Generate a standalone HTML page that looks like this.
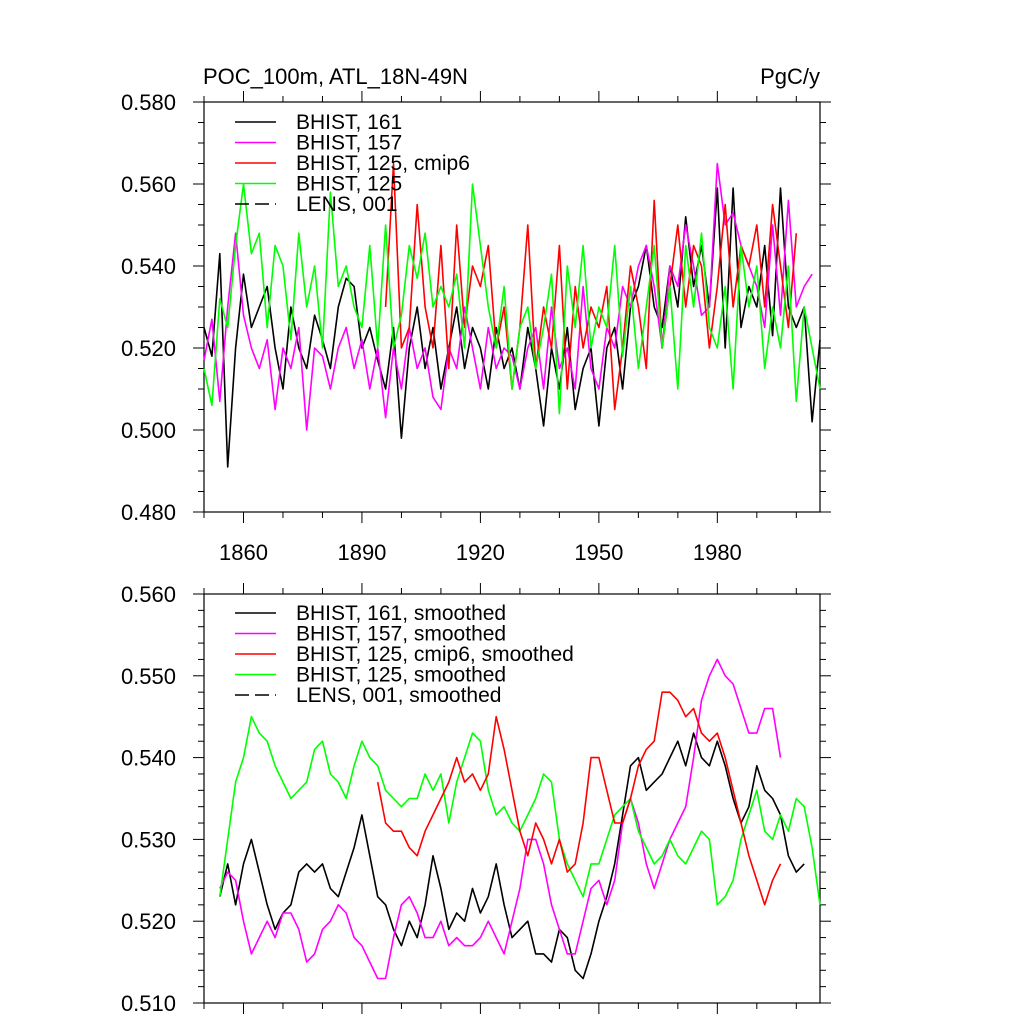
<!DOCTYPE html>
<html><head><meta charset="utf-8"><style>
body{margin:0;background:#fff}
svg{display:block}
text{font-family:"Liberation Sans",sans-serif;fill:#000}
</style></head><body>
<svg id="c" width="1024" height="1024" xmlns="http://www.w3.org/2000/svg">
<text x="203" y="84" font-size="22">POC_100m, ATL_18N-49N</text>
<text x="820" y="84" font-size="22" text-anchor="end">PgC/y</text>
</svg>
<script>
// top panel data (biennial from 1850)
const topBlack=[.525,.518,.543,.491,.52,.538,.525,.53,.535,.52,.51,.53,.52,.515,.528,.522,.515,.53,.537,.535,.52,.525,.517,.51,.525,.498,.52,.53,.515,.525,.51,.52,.53,.515,.525,.52,.51,.525,.515,.52,.51,.525,.515,.501,.52,.51,.525,.505,.515,.52,.501,.52,.525,.51,.53,.535,.545,.53,.525,.54,.53,.552,.535,.545,.53,.559,.52,.559,.525,.535,.53,.545,.523,.559,.53,.525,.53,.502,.522];
const topMagenta=[.517,.527,.507,.53,.548,.528,.52,.515,.522,.505,.52,.515,.525,.50,.52,.518,.51,.52,.525,.515,.522,.51,.52,.503,.52,.51,.525,.515,.52,.508,.505,.52,.515,.53,.52,.51,.525,.515,.52,.518,.51,.52,.525,.51,.53,.515,.52,.51,.535,.515,.51,.525,.52,.535,.53,.54,.545,.535,.52,.54,.535,.55,.54,.528,.53,.565,.55,.553,.545,.54,.535,.525,.55,.528,.556,.53,.535,.538];
const topGreen=[.515,.506,.532,.525,.545,.56,.543,.548,.525,.545,.54,.522,.548,.53,.54,.52,.558,.535,.54,.53,.525,.545,.52,.55,.52,.528,.545,.537,.548,.53,.535,.53,.538,.52,.56,.545,.53,.52,.535,.51,.525,.53,.515,.525,.538,.504,.54,.525,.545,.52,.53,.525,.545,.518,.535,.515,.53,.545,.52,.535,.51,.545,.53,.548,.525,.52,.535,.51,.545,.53,.54,.515,.53,.52,.54,.507,.53,.52,.51];
const topRedStart=1896;
const topRed=[.53,.565,.52,.525,.555,.53,.52,.545,.515,.55,.525,.54,.535,.545,.52,.53,.51,.525,.55,.515,.53,.52,.545,.51,.535,.52,.53,.525,.535,.505,.52,.54,.53,.515,.556,.52,.535,.55,.53,.545,.54,.52,.535,.555,.53,.545,.54,.55,.53,.555,.54,.525,.548];
// bottom panel smoothed data (biennial from 1854)
const botBlack=[.523,.527,.522,.527,.530,.526,.522,.519,.521,.522,.526,.527,.526,.527,.524,.523,.526,.529,.533,.528,.523,.522,.519,.517,.520,.518,.522,.528,.524,.519,.521,.520,.524,.521,.523,.527,.522,.518,.519,.52,.516,.516,.515,.519,.518,.514,.513,.516,.52,.523,.527,.533,.539,.540,.536,.537,.538,.54,.542,.539,.543,.54,.539,.542,.539,.535,.532,.534,.539,.536,.535,.533,.528,.526,.527];
const botMagenta=[.524,.526,.525,.52,.516,.518,.52,.518,.521,.521,.519,.515,.516,.519,.52,.522,.521,.518,.517,.515,.513,.513,.518,.522,.523,.521,.518,.518,.52,.517,.518,.517,.517,.518,.52,.518,.516,.52,.524,.53,.53,.527,.522,.519,.516,.516,.52,.524,.525,.522,.525,.532,.535,.532,.527,.524,.527,.53,.532,.534,.54,.547,.55,.552,.55,.549,.546,.543,.543,.546,.546,.54];
const botRedStart=1894;
const botRed=[.537,.532,.531,.531,.529,.528,.531,.533,.535,.537,.540,.537,.538,.536,.538,.545,.541,.536,.531,.528,.532,.530,.527,.530,.526,.527,.532,.540,.540,.536,.532,.532,.535,.539,.541,.542,.548,.548,.547,.545,.546,.543,.542,.543,.540,.536,.532,.528,.525,.522,.525,.527];
const botGreen=[.523,.53,.537,.54,.545,.543,.542,.539,.537,.535,.536,.537,.541,.542,.538,.537,.535,.539,.542,.540,.539,.536,.535,.534,.535,.535,.538,.536,.538,.532,.537,.540,.543,.542,.536,.533,.534,.532,.531,.533,.535,.538,.537,.530,.527,.525,.523,.527,.527,.53,.533,.534,.535,.531,.529,.527,.528,.530,.528,.527,.529,.531,.530,.522,.523,.525,.53,.533,.536,.531,.530,.533,.531,.535,.534,.529,.522];
const xTickLabels=["1860","1890","1920","1950","1980"];
const topLegend=["BHIST, 161","BHIST, 157","BHIST, 125, cmip6","BHIST, 125","LENS, 001"];
const botLegend=["BHIST, 161, smoothed","BHIST, 157, smoothed","BHIST, 125, cmip6, smoothed","BHIST, 125, smoothed","LENS, 001, smoothed"];

const NS="http://www.w3.org/2000/svg";
const svg=document.getElementById('c');
function mk(tag,attrs,parent){const e=document.createElementNS(NS,tag);for(const k in attrs)e.setAttribute(k,attrs[k]);(parent||svg).appendChild(e);return e;}
const X0=204,X1=820,Y0=1850,Y1=2006;
function xs(yr){return X0+(yr-Y0)/(Y1-Y0)*(X1-X0);}
function panel(top,bot,vmin,vmax,major,minor,labelsX,name){
  const g=mk('g',{});
  
  
  const ys=v=>bot-(v-vmin)/(vmax-vmin)*(bot-top);
  const r=mk('rect',{x:X0,y:top,width:X1-X0,height:bot-top,fill:'none',stroke:'#000','stroke-width':1.2},g);
  
  
  const nmin=Math.round((vmax-vmin)/minor);
  for(let i=0;i<=nmin;i++){
    const v=vmin+i*minor;const y=ys(v);
    const isMaj=Math.abs(Math.round((v-vmin)/major)*major-(v-vmin))<1e-9;
    const L=isMaj?11:6;
    mk('line',{x1:X0-L,x2:X0,y1:y,y2:y,stroke:'#000'},g);
    mk('line',{x1:X1,x2:X1+L,y1:y,y2:y,stroke:'#000'},g);
    if(isMaj){const t=mk('text',{x:X0-28,y:y+8,'font-size':22,'text-anchor':'end'},g);t.textContent=v.toFixed(3);
      
      }
  }
  for(let yr=1850;yr<=2000;yr+=10){
    const x=xs(yr);const isMaj=(yr-1860)%30===0;const L=isMaj?11:6;
    mk('line',{x1:x,x2:x,y1:bot,y2:bot+L,stroke:'#000'},g);
    mk('line',{x1:x,x2:x,y1:top-L,y2:top,stroke:'#000'},g);
  }
  if(labelsX){xTickLabels.forEach(s=>{const t=mk('text',{x:xs(+s),y:bot+48,'font-size':22,'text-anchor':'middle'},g);t.textContent=s;
    
    });}
  return {g,ys};
}
function series(p,arr,start,color,name){
  const pts=arr.map((v,i)=>xs(start+2*i).toFixed(1)+','+p.ys(v).toFixed(1)).join(' ');
  const l=mk('polyline',{points:pts,fill:'none',stroke:color,'stroke-width':1.6,'stroke-linejoin':'round'},p.g);
  
  
}
function legend(p,labels,y0,name){
  const cols=['#000','#f0f','#f00','#0f0','#000'];
  labels.forEach((s,i)=>{
    const y=y0+i*20.5;
    const ln=mk('line',{x1:235,x2:276,y1:y,y2:y,stroke:cols[i],'stroke-width':1.4},p.g);
    if(i===4)ln.setAttribute('stroke-dasharray','14,6');
    
    
    const t=mk('text',{x:296,y:y+7,'font-size':21},p.g);t.textContent=s;
    
    
  });
}
const pt=panel(102,512,0.48,0.58,0.02,0.005,true,'top-panel');
series(pt,topBlack,1850,'#000','top-bhist-161');
series(pt,topMagenta,1850,'#f0f','top-bhist-157');
series(pt,topRed,topRedStart,'#f00','top-bhist-125-cmip6');
series(pt,topGreen,1850,'#0f0','top-bhist-125');
legend(pt,topLegend,122,'top-legend');
const pb=panel(594,1003,0.51,0.56,0.01,0.002,false,'bottom-panel');
series(pb,botBlack,1854,'#000','bottom-bhist-161');
series(pb,botMagenta,1854,'#f0f','bottom-bhist-157');
series(pb,botGreen,1854,'#0f0','bottom-bhist-125');
series(pb,botRed,botRedStart,'#f00','bottom-bhist-125-cmip6');
legend(pb,botLegend,613,'bottom-legend');
</script>
</body></html>
